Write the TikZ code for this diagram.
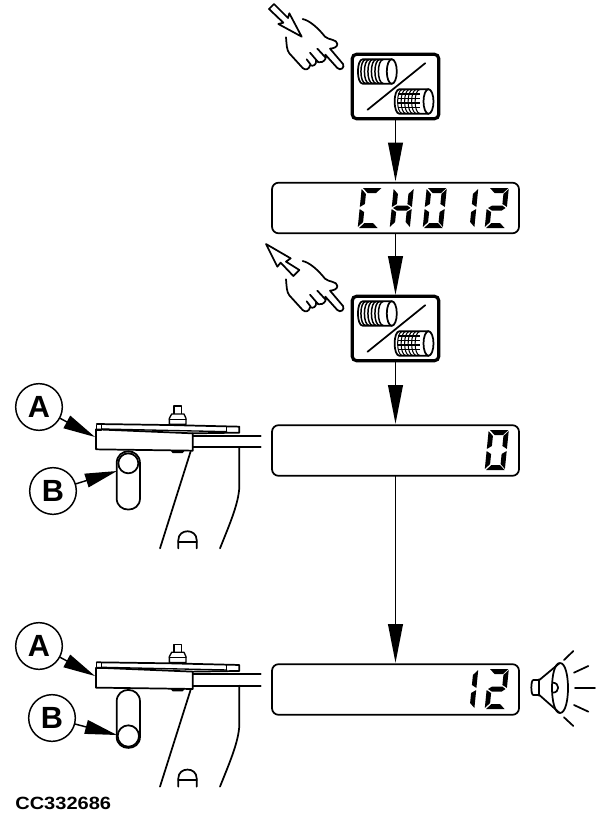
\documentclass[tikz,border=0pt]{standalone}
\usepackage{fontspec}
\setmainfont{Liberation Sans}
\usetikzlibrary{arrows.meta}
\tikzset{
  line/.style={line width=1.3pt,line join=round,line cap=round},
  thin line/.style={line width=1pt,line join=round,line cap=round},
  flow/.style={line width=1.3pt,-{Triangle[length=29pt,width=11pt]},shorten >=1pt},
  pointer/.style={line width=1.1pt,-{Triangle[length=24pt,width=10.5pt]}},
  btn/.style={draw,line width=2.4pt,rounded corners=3.5pt,minimum width=65pt,minimum height=48.5pt,inner sep=0pt,outer sep=0pt},
  disp/.style={draw,line width=1.3pt,rounded corners=5pt,minimum width=185.25pt,minimum height=38pt,inner sep=0pt,outer sep=0pt},
  callout/.style={draw,circle,line width=1.1pt,minimum size=35pt,inner sep=0pt,outer sep=0pt,font=\bfseries\fontsize{23}{23}\selectfont},
  zoomed/.style={x=.25pt,y=-.25pt}
}
% seven-segment elements (local px, 19 wide, 40 tall)
\newcommand\dsa{\fill (1,0)--(19.5,0)--(14.5,5)--(6,5)--cycle;}
\newcommand\dsb{\fill (19.8,1)--(19.8,19)--(15,16)--(15,6)--cycle;}
\newcommand\dsc{\fill (19.8,21)--(19.8,39)--(15,34)--(15,24)--cycle;}
\newcommand\dsd{\fill (1,40)--(19.5,40)--(14.5,35)--(6,35)--cycle;}
\newcommand\dse{\fill (-.3,21)--(-.3,39)--(4.5,34)--(4.5,24)--cycle;}
\newcommand\dsf{\fill (-.3,1)--(-.3,19)--(4.5,16)--(4.5,6)--cycle;}
\newcommand\dsg{\fill (1,20)--(5,17.5)--(15,17.5)--(18.5,20)--(15,22.5)--(5,22.5)--cycle;}
\newcommand\digit[3]{\begin{scope}[shift={(#1,#2)},xslant=.1]
  \foreach \s in {#3}{\csname ds\s\endcsname}\end{scope}}
% half ellipse opening right, at x=#1
\newcommand\ribarc[2]{\draw[line width=#2] (#1,-12) .. controls (#1-6.5,-12) and (#1-6.5,12) .. (#1,12);}
\newcommand\spoolbody{%
  \draw[line,fill=white] (0,-12.3)--(-29,-12.3) .. controls (-35.5,-12.3) and (-35.5,12.3) .. (-29,12.3)--(0,12.3);
}
\newcommand\spoolcap{\draw[line,fill=white] (0,0) ellipse[x radius=5,y radius=12.3];}
\newcommand\icon[1]{\begin{scope}[shift={(#1)}]
  \draw[line] (-28,23.3)--(29.7,-23.3);
  \begin{scope}[shift={(-3.7,-15)}]
    \spoolbody
    \foreach \r in {-26,-22.5,-19,-15.5,-12,-8.5}{\ribarc{\r}{1.1pt}}
    \spoolcap
  \end{scope}
  \begin{scope}[shift={(33,15)}]
    \spoolbody
    \foreach \r in {-26,-22.5,-19,-15.5,-12,-8.5}{\ribarc{\r}{.8pt}}
    \foreach \h in {-7.5,-3,1.5,6}{\draw[line width=.8pt] (-31,\h)--(-9,\h);}
    \spoolcap
  \end{scope}
\end{scope}}
\newcommand\hand{%
  \draw[line,fill=white] (128,57) .. controls (150,62) and (175,85) .. (195,110)
    .. controls (205,120) and (232,118) .. (232,132) .. controls (232,142) and (220,145) .. (210,146)
    -- (249,192) .. controls (255,202) and (242,214) .. (232,204) -- (196,164)
    .. controls (200,172) and (196,182) .. (186,186) .. controls (180,189) and (172,186) .. (168,182)
    .. controls (170,194) and (160,200) .. (150,196) .. controls (148,208) and (136,212) .. (128,204)
    -- (88,160) .. controls (80,150) and (80,135) .. (78,112);
  \draw[line] (172,146)--(196,172);
  \draw[line] (150,158)--(174,186);
  \draw[line] (140,178)--(152,194);
}
\newcommand\mech[1]{\begin{scope}[shift={(0,#1)},zoomed]
  \draw[line] (290,162)--(505,165)--(718,170)--(718,188)--(578,190);
  \draw[thin line] (305,177)--(680,185);
  \draw[thin line] (290,165)--(290,180)--(305,180)--(305,165);
  \draw[thin line] (680,170)--(680,186);
  \draw[line] (288,178)--(288,238)--(578,242)--(578,190)--(288,178);
  \draw[line] (578,197)--(782,197);
  \draw[line] (578,232)--(782,232);
  \draw[line] (718,232)--(718,350) .. controls (716,400) and (690,460) .. (660,535);
  \draw[line] (572,244)--(480,535);
  \draw[thin line,fill=white] (522,132)--(522,108)--(545,108)--(545,132);
  \draw[thin line,fill=white] (508,163)--(508,145)--(515,132)--(552,132)--(558,145)--(558,163)--cycle;
  \draw[thin line] (508,148)--(558,148);
  \fill (510,240)--(555,241)--(548,249)--(518,249)--cycle;
  \draw[line] (535,535)--(535,510) .. controls (535,475) and (590,475) .. (590,510)--(590,535);
  \draw[line] (535,515)--(590,515);
\end{scope}}
\begin{document}
\begin{tikzpicture}[x=.75pt,y=-.75pt]
\useasboundingbox (0,0) rectangle (597,813);
% main chain
\node[btn] (b1) at (395.5,86.5) {};
\node[disp] (d1) at (395.5,208) {};
\node[btn] (b2) at (395.5,328.5) {};
\node[disp] (d2) at (395.5,450.5) {};
\node[disp] (d3) at (395.5,689.5) {};
\draw[flow] (b1.south)--(d1.north);
\draw[flow] (d1.south)--(b2.north);
\draw[flow] (b2.south)--(d2.north);
\draw[flow] (d2.south)--(d3.north);
\icon{b1.center}
\icon{b2.center}
% readouts
\digit{362}{188}{a,f,e,d}
\digit{394}{188}{f,b,g,e,c}
\digit{427}{188}{a,b,c,d,e,f}
\digit{458.5}{188}{b,c}
\digit{489}{188}{a,b,g,e,d}
\digit{489}{430}{a,b,c,d,e,f}
\digit{458.5}{669}{b,c}
\digit{489}{669}{a,b,g,e,d}
% hands
\begin{scope}[shift={(260,0)},zoomed]
  \hand
  \draw[line,fill=white] (42,12)--(84,54)--(88,40)--(125,110)--(55,72)--(70,68)--(27,27)--cycle;
\end{scope}
\begin{scope}[shift={(260,170)},zoomed]
  \begin{scope}[yshift=-54pt]\hand\end{scope}
  \draw[line,fill=white] (18,222)--(92,265)--(78,275)--(118,300)--(100,318)--(62,278)--(52,290)--cycle;
\end{scope}
% mechanism, upper
\mech{370}
\begin{scope}[shift={(0,370)},zoomed]
  \draw[line,fill=white] (350,280) .. controls (350,232) and (420,232) .. (420,280)
     -- (420,385) .. controls (420,430) and (350,430) .. (350,385) -- cycle;
  \draw[line,fill=white] (385,280) circle[radius=7.5pt];
\end{scope}
\node[callout] (A1) at (39,407) {A};
\node[callout] (B1) at (53,491) {B};
\coordinate (tA1) at (95,437);
\coordinate (tB1) at (117,471);
\draw[pointer] (A1)--(tA1);
\draw[pointer] (B1)--(tB1);
% mechanism, lower
\mech{608.3}
\begin{scope}[shift={(0,610)},zoomed]
  \draw[line,fill=white] (350,275) .. controls (350,228) and (420,228) .. (420,275)
     -- (420,380) .. controls (420,425) and (350,425) .. (350,380) -- cycle;
  \draw[line,fill=white] (385,378) circle[radius=8pt];
\end{scope}
\node[callout] (A2) at (39,646) {A};
\node[callout] (B2) at (52,718) {B};
\coordinate (tA2) at (95,676);
\coordinate (tB2) at (117,735);
\draw[pointer] (A2)--(tA2);
\draw[pointer] (B2)--(tB2);
% speaker
\begin{scope}[shift={(400,640)},zoomed]
  \draw[line] (418,120)--(400,120) .. controls (392,120) and (392,165) .. (400,165)--(418,165);
  \draw[line] (418,118)--(418,167);
  \draw[line] (418,120)--(478,70);
  \draw[line] (418,165)--(478,218);
  \draw[line] (480,69) .. controls (512,69) and (512,219) .. (480,219) .. controls (448,219) and (448,69) .. (480,69);
  \draw[line] (458,128) .. controls (480,128) and (480,158) .. (458,158);
  \draw[line] (492,60)--(520,33);
  \draw[line] (522,98)--(565,78);
  \draw[line] (525,144)--(585,144);
  \draw[line] (522,195)--(565,215);
  \draw[line] (492,232)--(520,258);
\end{scope}
\node[anchor=base west,inner sep=0pt,xscale=1.13,font=\bfseries\fontsize{13.3}{14}\selectfont] (code) at (15,809) {CC332686};
\end{tikzpicture}
\end{document}
